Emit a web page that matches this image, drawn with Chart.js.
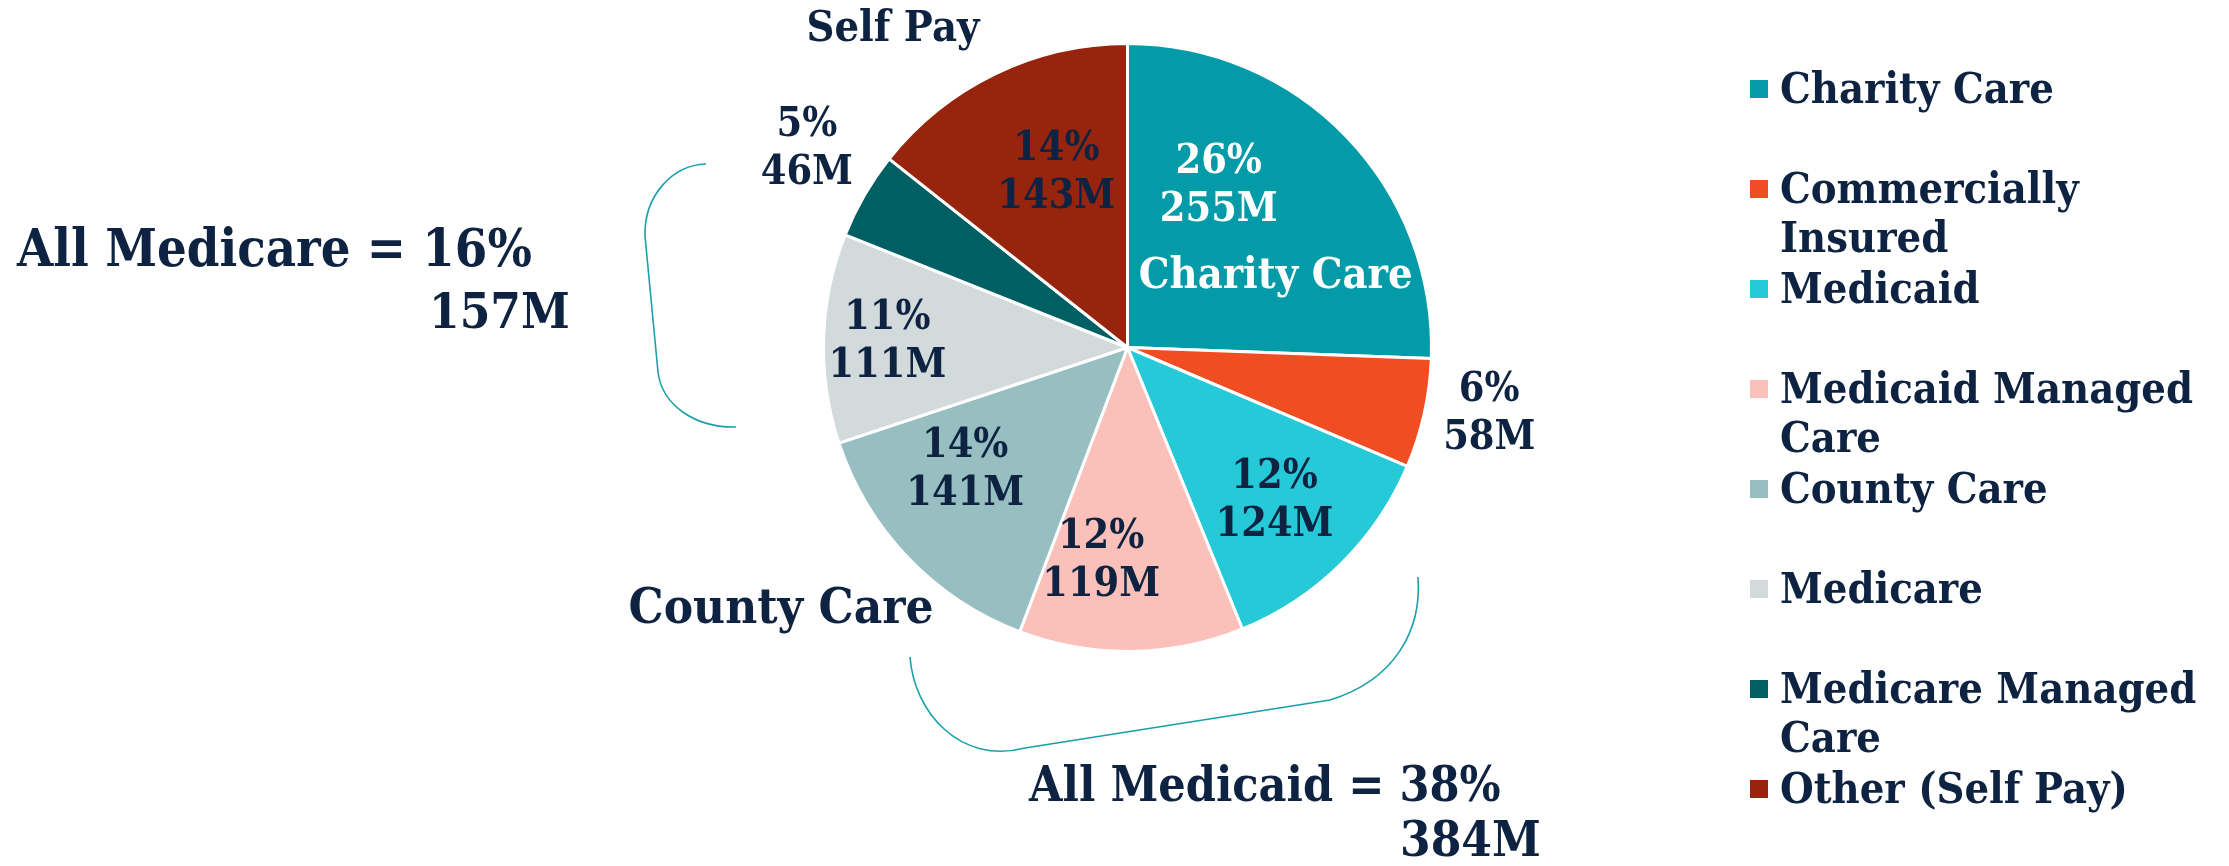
<!DOCTYPE html>
<html>
<head>
<meta charset="utf-8">
<script src="https://cdn.jsdelivr.net/npm/chart.js@4.4.1/dist/chart.umd.min.js"></script>
<style>
    html, body { margin: 0; padding: 0; background: #ffffff; }
    #wrap { width: 2229px; height: 866px; position: relative; }
</style>
</head>
<body>
<div id="wrap"><canvas id="myChart"></canvas></div>
<script>
// payer mix, millions of dollars
const labels = [
    'Charity Care',
    'Commercially Insured',
    'Medicaid',
    'Medicaid Managed Care',
    'County Care',
    'Medicare',
    'Medicare Managed Care',
    'Other (Self Pay)'
];
const legendLines = [
    ['Charity Care'],
    ['Commercially', 'Insured'],
    ['Medicaid'],
    ['Medicaid Managed', 'Care'],
    ['County Care'],
    ['Medicare'],
    ['Medicare Managed', 'Care'],
    ['Other (Self Pay)']
];
const amounts = [255, 58, 124, 119, 141, 111, 46, 143];
const groupMedicare = ['All Medicare = 16%', '157M'];
const groupMedicaid = ['All Medicaid = 38%', '384M'];

const colors = ['#039ba7', '#f04d23', '#26c9d7', '#fbc0b9', '#97bec0', '#d3dadc', '#005f63', '#97240d'];
const navy = '#0e2341';
const teal = '#1aa0aa';
const font = '"DejaVu Serif", Georgia, serif';
const squeeze = 0.9; // DejaVu is wider than the original face

// where each value label sits: [fraction along the slice, fraction of radius]
const spots = [[0.32, 0.61], [0.40, 1.21], [0.52, 0.70], [0.68, 0.71], [0.63, 0.67], [0.49, 0.79], [0.60, 1.24], [0.57, 0.62]];
// extra slice names: [slice index, fraction along, fraction of radius, size, colour, text]
const sliceNames = [
    [0, 0.70, 0.54, 43, '#ffffff', 'Charity Care'],
    [7, 0.295, 1.30, 43, navy, 'Self Pay'],
    [4, 0.63, 1.43, 49, navy, 'County Care']
];

function spotAt(arc, t, r) {
    const p = arc.getProps(['x', 'y', 'startAngle', 'endAngle', 'outerRadius'], true);
    const a = p.startAngle + (p.endAngle - p.startAngle) * t;
    return {x: p.x + Math.cos(a) * p.outerRadius * r, y: p.y + Math.sin(a) * p.outerRadius * r};
}

function txt(ctx, s, x, y, size, color, align) {
    ctx.save();
    ctx.font = 'bold ' + size + 'px ' + font;
    ctx.fillStyle = color;
    ctx.textAlign = align;
    ctx.translate(x, y);
    ctx.scale(squeeze, 1);
    ctx.fillText(s, 0, 0);
    ctx.restore();
}

const labelPlugin = {
    id: 'labelPlugin',
    afterDatasetsDraw(chart) {
        const ctx = chart.ctx;
        const arcs = chart.getDatasetMeta(0).data;
        const total = amounts.reduce((a, b) => a + b, 0);
        ctx.save();
        ctx.textBaseline = 'middle';
        arcs.forEach((arc, i) => {
            const s = spotAt(arc, spots[i][0], spots[i][1]);
            const c = i === 0 ? '#ffffff' : navy;
            txt(ctx, Math.round(amounts[i] / total * 100) + '%', s.x, s.y - 24, 41, c, 'center');
            txt(ctx, amounts[i] + 'M', s.x, s.y + 24, 41, c, 'center');
        });
        sliceNames.forEach((n) => {
            const s = spotAt(arcs[n[0]], n[1], n[2]);
            txt(ctx, n[5], s.x, s.y, n[3], n[4], 'center');
        });

        // group notes
        ctx.textBaseline = 'alphabetic';
        txt(ctx, groupMedicare[0], 17, 266, 52, navy, 'left');
        txt(ctx, groupMedicare[1], 429, 328, 49, navy, 'left');
        txt(ctx, groupMedicaid[0], 1029, 801, 48, navy, 'left');
        txt(ctx, groupMedicaid[1], 1400, 856, 49, navy, 'left');

        // brackets
        ctx.strokeStyle = teal;
        ctx.lineWidth = 1.6;
        ctx.beginPath();
        ctx.moveTo(706, 164);
        ctx.bezierCurveTo(672, 165, 644, 196, 645, 236);
        ctx.lineTo(658, 372);
        ctx.bezierCurveTo(662, 405, 695, 428, 736, 427);
        ctx.stroke();

        ctx.beginPath();
        ctx.moveTo(910, 657);
        ctx.bezierCurveTo(914, 712, 960, 765, 1025, 748);
        ctx.lineTo(1330, 700);
        ctx.bezierCurveTo(1395, 680, 1422, 630, 1418, 577);
        ctx.stroke();

        // legend
        legendLines.forEach((lines, i) => {
            const base = 103 + i * 100;
            ctx.fillStyle = colors[i];
            ctx.fillRect(1750, base - 23, 18, 18);
            lines.forEach((line, k) => txt(ctx, line, 1780, base + k * 49, 43, navy, 'left'));
        });
        ctx.restore();
    }
};

const data = {
    labels: labels,
    datasets: [{
        data: amounts,
        backgroundColor: colors,
        borderColor: '#ffffff',
        borderWidth: 3
    }]
};

const config = {
    type: 'pie',
    data: data,
    options: {
        responsive: true,
        maintainAspectRatio: false,
        animation: false,
        layout: {
            padding: {left: 822, right: 796, top: 42, bottom: 213}
        },
        plugins: {
            legend: {display: false},
            tooltip: {enabled: false}
        }
    },
    plugins: [labelPlugin]
};

const myChart = new Chart(document.getElementById('myChart'), config);
</script>
</body>
</html>
